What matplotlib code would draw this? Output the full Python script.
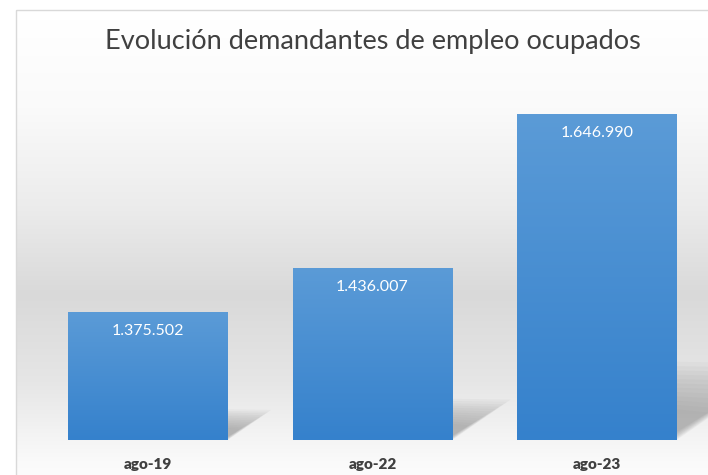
import numpy as np
import matplotlib.pyplot as plt
from matplotlib.patches import Polygon, Rectangle

categories = ['ago-19', 'ago-22', 'ago-23']
values = [1375502, 1436007, 1646990]
labels = ['1.375.502', '1.436.007', '1.646.990']

W, H = 708, 475
fig = plt.figure(figsize=(W / 100, H / 100), dpi=100)
fig.patch.set_facecolor('white')

# background gradient inside the chart frame
bg = fig.add_axes([0, 0, 1, 1], zorder=0)
bg.set_xlim(0, W)
bg.set_ylim(H, 0)
bg.axis('off')
ys = np.array([10, 100, 200, 290, 380, 460, 475])
cs = np.array([255, 250, 236, 217, 230, 250, 252])
col = np.interp(np.arange(H), ys, cs) / 255.0
img = np.repeat(col[:, None], 2, axis=1)
img = np.dstack([img, img, img])
bg.imshow(img, extent=(16, W, H, 10), aspect='auto', interpolation='bilinear')
bg.add_patch(Rectangle((16, 10), W, H, fill=False, edgecolor='#d9d9d9', lw=1))

# main axes: bottom edge is the bar baseline
ax = fig.add_axes([0, 35 / H, 1, 405 / H], zorder=1)
ax.patch.set_alpha(0)
px_per_cat = 224.5
val_per_px = 1372.0
base = 1200000
ax.set_xlim(-148 / px_per_cat, (W - 148) / px_per_cat)
ax.set_ylim(base, base + 405 * val_per_px)
for s in ax.spines.values():
    s.set_visible(False)
ax.tick_params(length=0, pad=13)
ax.set_yticks([])

x = np.arange(len(categories))
width = 0.71

# soft shadows cast to the right of each bar
for xi, v in zip(x, values):
    h = (v - base) / val_per_px
    xr = xi + width / 2
    dx = 0.34 * h / px_per_cat
    dy = 0.24 * h * val_per_px
    for k in range(12):
        s = 1 - k * 0.065
        poly = Polygon([(xr, base + dy * 0.15 * (1 - s)),
                        (xr, base + dy * (0.15 + 0.85 * s)),
                        (xr + dx * s, base + dy * (0.98 * s + 0.1 * (1 - s)))],
                       closed=True, facecolor='#8a8a8a', edgecolor='none',
                       alpha=0.065, zorder=1)
        ax.add_patch(poly)

bars = ax.bar(x, values, width=width, bottom=0, color='#4a8fd3', zorder=2,
              edgecolor='none')

grad = np.linspace(0, 1, 256)[:, None]
top_c = np.array([0x5b, 0x9b, 0xd7]) / 255
bot_c = np.array([0x35, 0x81, 0xcc]) / 255
gimg = top_c * (1 - grad[..., None]) + bot_c * grad[..., None]
gimg = np.repeat(gimg, 2, axis=1)
for b in bars:
    x0 = b.get_x()
    im = ax.imshow(gimg, extent=(x0, x0 + b.get_width(), base, b.get_height()),
                   aspect='auto', zorder=3, interpolation='bilinear')
    im.set_clip_path(b)

for xi, v, lab in zip(x, values, labels):
    ax.text(xi, v - 19 * val_per_px, lab, ha='center', va='center',
            color='white', fontsize=11.5, family='Lato', zorder=4)

ax.set_xticks(x)
ax.set_xticklabels(categories, fontsize=11, fontweight='heavy', color='#404040',
                   family='Lato')

fig.text(372.5 / W, 1 - 42 / H, 'Evolución demandantes de empleo ocupados',
         ha='center', va='center', fontsize=19.5, color='#404040',
         family='Lato', zorder=5)

fig.savefig('out.png', dpi=100)
